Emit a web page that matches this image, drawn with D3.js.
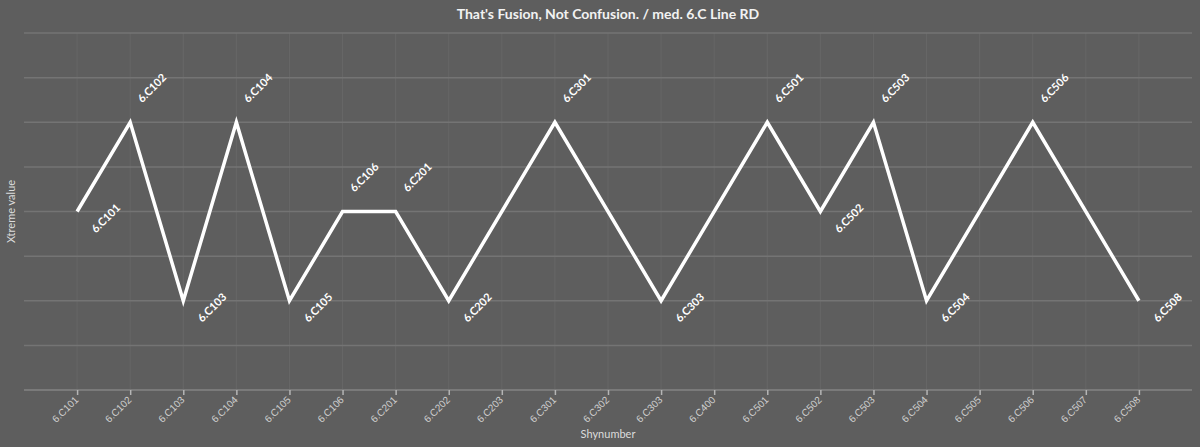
<!DOCTYPE html>
<html>
<head>
<meta charset="utf-8">
<script src="https://cdn.jsdelivr.net/npm/d3@7"></script>
<style>
  html, body { margin: 0; padding: 0; background: #5e5e5e; }
  svg { display: block; font-family: Lato, "Open Sans", sans-serif; }
</style>
</head>
<body>
<svg id="chart" width="1200" height="447"></svg>
<script>
const categories = ["6.C101","6.C102","6.C103","6.C104","6.C105","6.C106","6.C201","6.C202","6.C203","6.C301","6.C302","6.C303","6.C400","6.C501","6.C502","6.C503","6.C504","6.C505","6.C506","6.C507","6.C508"];
const values = [2, 3, 1, 3, 1, 2, 2, 1, null, 3, null, 1, null, 3, 2, 3, 1, null, 3, null, 1];
const yTicks = [0, 0.5, 1, 1.5, 2, 2.5, 3, 3.5, 4];
const title = "That's Fusion, Not Confusion. / med. 6.C Line RD";
const xTitle = "Shynumber";
const yTitle = "Xtreme value";

const W = 1200, H = 447;
const m = { left: 24, right: 8, top: 33, bottom: 57 };
const svg = d3.select("#chart");
svg.append("rect").attr("width", W).attr("height", H).attr("fill", "#5e5e5e");

const x = d3.scalePoint().domain(categories).range([m.left, W - m.right]).padding(1);
const y = d3.scaleLinear().domain([0, 4]).range([H - m.bottom, m.top]);

// vertical grid
svg.append("g").selectAll("line").data(categories).join("line")
  .attr("x1", d => x(d)).attr("x2", d => x(d))
  .attr("y1", m.top).attr("y2", H - m.bottom)
  .attr("stroke", "#676767").attr("stroke-width", 1);

// horizontal grid
svg.append("g").selectAll("line").data(yTicks.slice(1)).join("line")
  .attr("x1", m.left).attr("x2", W - m.right)
  .attr("y1", d => y(d)).attr("y2", d => y(d))
  .attr("stroke", "#747474").attr("stroke-width", 1.5);

// x axis
const xAxis = svg.append("g").attr("transform", `translate(0,${H - m.bottom})`)
  .call(d3.axisBottom(x).tickSize(5).tickSizeOuter(0));
xAxis.select(".domain").attr("stroke", "#7a7a7a").attr("stroke-width", 2)
  .attr("d", `M${m.left},0H${W - m.right}`);
xAxis.selectAll(".tick line").attr("stroke", "#b5b5b5").attr("stroke-width", 1.5);
xAxis.selectAll(".tick text")
  .attr("fill", "#cfcfcf").attr("font-size", 10)
  .attr("text-anchor", "end")
  .attr("transform", "translate(-1,8) rotate(-45)")
  .attr("dy", "0.35em").attr("y", 0).attr("x", 0);

// line
const pts = categories.map((c, i) => ({ c, v: values[i], i })).filter(d => d.v != null);
const line = d3.line().x(d => x(d.c)).y(d => y(d.v));
svg.append("path").datum(pts).attr("d", line)
  .attr("fill", "none").attr("stroke", "#ffffff").attr("stroke-width", 3.5)
  .attr("stroke-linejoin", "miter");

// data labels
pts.forEach((d, k) => {
  const prev = k > 0 ? pts[k - 1].v : null;
  const next = k < pts.length - 1 ? pts[k + 1].v : null;
  const nb = [prev, next].filter(v => v != null);
  const below = d.v <= Math.min(...nb);
  const px = x(d.c), py = y(d.v);
  const tx = below ? px + 19 : px + 12;
  const ty = below ? py + 22 : py - 19;
  svg.append("text")
    .attr("transform", `translate(${tx},${ty}) rotate(-45)`)
    .attr("fill", "#ffffff").attr("font-size", 11).attr("font-weight", "bold")
    .text(d.c);
});

// titles
svg.append("text").attr("x", (m.left + W - m.right) / 2).attr("y", 19)
  .attr("text-anchor", "middle").attr("fill", "#f2f2f2")
  .attr("font-size", 14).attr("font-weight", "bold").text(title);
svg.append("text").attr("x", (m.left + W - m.right) / 2).attr("y", 438)
  .attr("text-anchor", "middle").attr("fill", "#dcdcdc")
  .attr("font-size", 11).text(xTitle);
svg.append("text")
  .attr("transform", `translate(15,${(m.top + H - m.bottom) / 2}) rotate(-90)`)
  .attr("text-anchor", "middle").attr("fill", "#dcdcdc")
  .attr("font-size", 11).text(yTitle);
</script>
</body>
</html>
